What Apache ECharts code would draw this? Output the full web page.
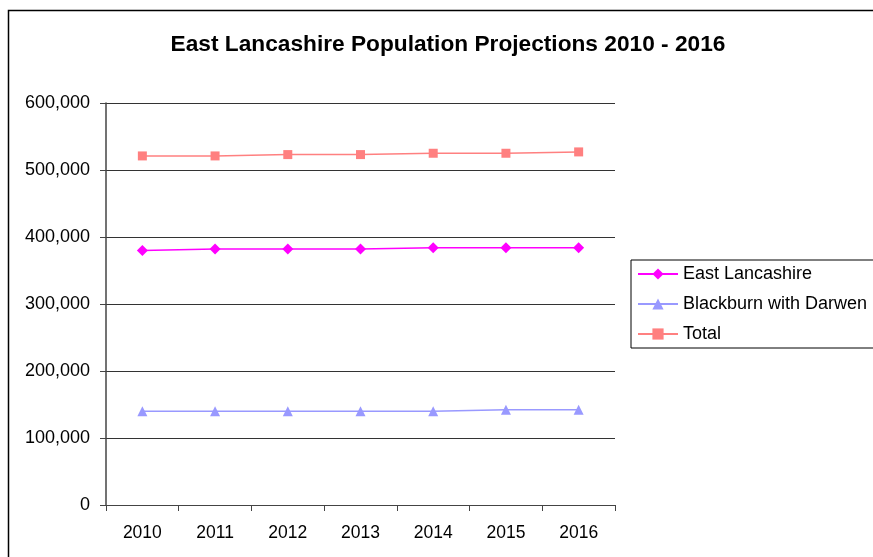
<!DOCTYPE html>
<html>
<head>
<meta charset="UTF-8">
<title>East Lancashire Population Projections</title>
<script src="https://cdn.jsdelivr.net/npm/echarts@6/dist/echarts.min.js"></script>
<style>
  html, body{
    margin:0;
    padding:0;
    background:#fff;
  }
  #chart{
    width:873px;
    height:557px;
  }
</style>
</head>
<body>
<div id="chart"></div>
<script>
// 数据
var years = ['2010', '2011', '2012', '2013', '2014', '2015', '2016'];
var eastLancs = [380000, 382000, 382000, 382000, 384000, 384000, 384000];
var blackburn = [140000, 140000, 140000, 140000, 140000, 142000, 142000];
var total = [521000, 521000, 523000, 523000, 525000, 525000, 527000];

var chart = echarts.init(document.getElementById('chart'));
var font = 'Liberation Sans, Arial, sans-serif';

function fmt(v){
  return v.toString().replace(/\B(?=(\d{3})+(?!\d))/g, ',');
}

var option = {
  backgroundColor: '#fff',
  animation: false,
  title: {
    text: 'East Lancashire Population Projections 2010 - 2016',
    left: 443,
    top: 28,
    textAlign: 'center',
    textStyle: {
      fontFamily: font,
      fontSize: 22.7,
      fontWeight: 'bold',
      color: '#000'
    }
  },
  graphic: [{
    type: 'rect',
    shape: {x: 8.5, y: 10.5, width: 900, height: 600},
    style: {fill: 'none', stroke: '#000', lineWidth: 1.5},
    silent: true
  }],
  legend: {
    orient: 'vertical',
    left: 631,
    top: 260,
    padding: [5, 40, 5, 6],
    itemGap: 12,
    itemWidth: 40,
    itemHeight: 14,
    borderColor: '#000',
    borderWidth: 1,
    backgroundColor: '#fff',
    textStyle: {fontFamily: font, fontSize: 18, color: '#000'},
    data: ['East Lancashire', 'Blackburn with Darwen', 'Total']
  },
  grid: {
    left: 106,
    top: 103,
    right: 258,
    bottom: 52,
    containLabel: false
  },
  xAxis: {
    type: 'category',
    data: years,
    boundaryGap: true,
    axisLine: {lineStyle: {color: '#444', width: 1}},
    axisTick: {show: true, length: 6, lineStyle: {color: '#444'}},
    axisLabel: {fontFamily: font, fontSize: 17.5, color: '#000', margin: 19}
  },
  yAxis: {
    type: 'value',
    min: 0,
    max: 600000,
    interval: 100000,
    axisLine: {show: true, lineStyle: {color: '#444', width: 1.5}},
    axisTick: {show: true, length: 6, lineStyle: {color: '#444'}},
    axisLabel: {
      fontFamily: font, fontSize: 18, color: '#000', margin: 16,
      formatter: function(v){ return fmt(v); }
    },
    splitLine: {lineStyle: {color: '#333', width: 1}}
  },
  series: [
    {
      name: 'East Lancashire',
      type: 'line',
      data: eastLancs,
      symbol: 'diamond',
      symbolSize: 11,
      itemStyle: {color: '#FF00FF'},
      lineStyle: {color: '#FF00FF', width: 1.5}
    },
    {
      name: 'Blackburn with Darwen',
      type: 'line',
      data: blackburn,
      symbol: 'triangle',
      symbolSize: 10,
      itemStyle: {color: '#9999FF'},
      lineStyle: {color: '#9999FF', width: 1.5}
    },
    {
      name: 'Total',
      type: 'line',
      data: total,
      symbol: 'rect',
      symbolSize: 9,
      itemStyle: {color: '#FF8080'},
      lineStyle: {color: '#FF8080', width: 1.5}
    }
  ]
};
chart.setOption(option);
</script>
</body>
</html>
